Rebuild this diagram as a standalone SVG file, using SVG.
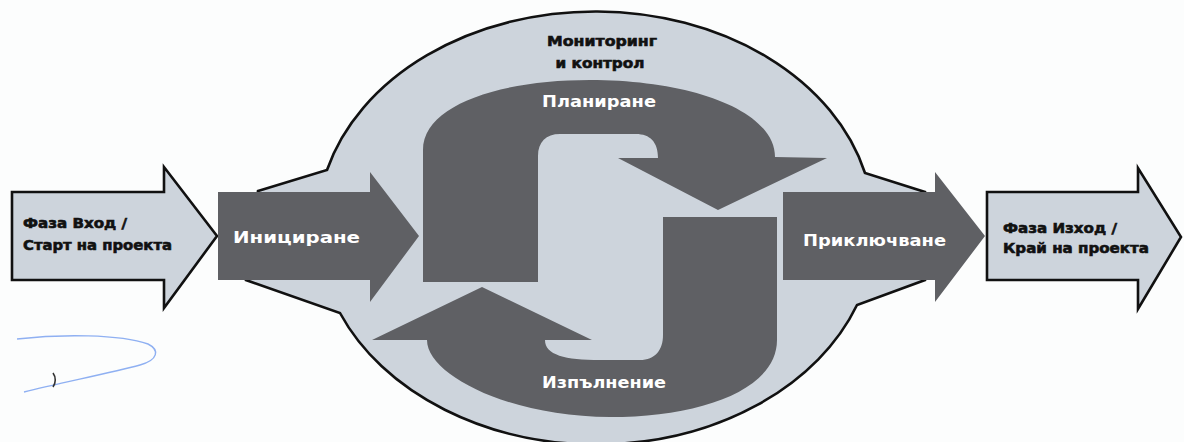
<svg xmlns="http://www.w3.org/2000/svg" width="1184" height="442" viewBox="0 0 1184 442">
  <style>
    .light { fill: #cdd4dc; stroke: #111; stroke-width: 2.6; stroke-linejoin: miter; }
    .dark { fill: #5f6064; stroke: none; }
    .lbl-dark { font-family: "DejaVu Sans", "Liberation Sans", sans-serif; font-weight: bold; font-size: 14px; fill: #111; stroke: #111; stroke-width: 0.6; }
    .lbl-white { font-family: "DejaVu Sans", "Liberation Sans", sans-serif; font-weight: bold; font-size: 15px; fill: #ffffff; }
  </style>
  <rect x="0" y="0" width="1184" height="442" fill="#fcfdfd"/>

  <g id="monitoring">
    <path class="light" d="M258,191 L327,170 A278,214 0 0 1 865,173 L925,192 L925,280 L857,305 A278,214 0 0 1 340,313 L246,280 Z"/>
    <text class="lbl-dark" x="602" y="46" text-anchor="middle" textLength="110" lengthAdjust="spacingAndGlyphs">Мониторинг</text>
    <text class="lbl-dark" x="600" y="68" text-anchor="middle" textLength="89" lengthAdjust="spacingAndGlyphs">и контрол</text>
  </g>

  <g id="connectors">
    <path class="dark" d="M423,282 L423,150 C423,105 500,80 590,80 C690,80 775,110 775,157 L827,158 L718,210 L618,158 L658,158 C658,142 650,134 636,134 L560,134 C546,134 538,142 538,156 L538,282 Z"/>
    <path class="dark" d="M663,217 L777,217 L777,340 C777,390 700,417 610,417 C510,417 427,375 427,340 L372,340 L482,287 L592,340 L545,340 C545,355 565,360 600,360 L640,360 C655,360 663,350 663,335 Z"/>
  </g>

  <g id="planning">
    <text class="lbl-white" x="599" y="107" text-anchor="middle" textLength="114" lengthAdjust="spacingAndGlyphs">Планиране</text>
  </g>

  <g id="execution">
    <text class="lbl-white" x="542" y="388" textLength="124" lengthAdjust="spacingAndGlyphs">Изпълнение</text>
  </g>

  <g id="input">
    <path class="light" d="M12,192 L164,192 L164,167 L217,236 L164,308 L164,280 L12,280 Z"/>
    <text class="lbl-dark" x="23" y="228" textLength="104" lengthAdjust="spacingAndGlyphs">Фаза Вход /</text>
    <text class="lbl-dark" x="23" y="250" textLength="149" lengthAdjust="spacingAndGlyphs">Старт на проекта</text>
  </g>

  <g id="initiation">
    <path class="dark" d="M218,192 L370,192 L370,172 L419,236 L370,302 L370,280 L218,280 Z"/>
    <text class="lbl-white" x="233" y="243" textLength="127" lengthAdjust="spacingAndGlyphs">Инициране</text>
  </g>

  <g id="closing">
    <path class="dark" d="M783,192 L935,192 L935,172 L985,236 L935,302 L935,280 L783,280 Z"/>
    <text class="lbl-white" x="803" y="246" textLength="143" lengthAdjust="spacingAndGlyphs">Приключване</text>
  </g>

  <g id="output">
    <path class="light" d="M987,192 L1138,192 L1138,168 L1181,237 L1138,309 L1138,280 L987,280 Z"/>
    <text class="lbl-dark" x="1003" y="233" textLength="114" lengthAdjust="spacingAndGlyphs">Фаза Изход /</text>
    <text class="lbl-dark" x="1003" y="253" textLength="146" lengthAdjust="spacingAndGlyphs">Край на проекта</text>
  </g>

  <g id="scribble" fill="none">
    <path d="M17,339 C60,334 120,334 148,344 C160,350 158,360 140,365 C110,373 60,383 24,392" stroke="#8fb0f2" stroke-width="1.4"/>
    <path d="M53,373 C56,377 56,383 53,387" stroke="#333" stroke-width="1.6"/>
  </g>
</svg>
